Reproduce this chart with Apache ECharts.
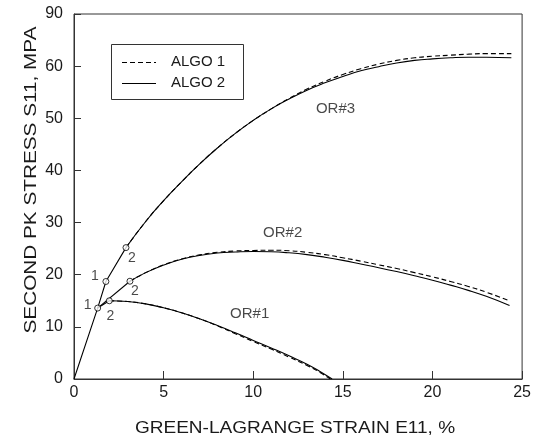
<!DOCTYPE html>
<html>
<head>
<meta charset="utf-8">
<script src="https://cdn.jsdelivr.net/npm/echarts@6/dist/echarts.min.js"></script>
<style>html,body{margin:0;padding:0;background:#fff}#c{width:534px;height:441px}</style>
</head>
<body>
<div id="c"></div>
<script>
// ---- data ----
const xTicks = [0, 5, 10, 15, 20, 25];
const yTickLabels = {0:'0',10:'10',20:'20',30:'30',40:'40',50:'50',60:'60',70:'90'};
const xTitle = 'GREEN-LAGRANGE STRAIN E11, %';
const yTitle = 'SECOND PK STRESS S11, MPA';
const legendNames = ['ALGO 1', 'ALGO 2'];

// elastic (straight) loading paths
const elasticOR1 = [[0,0],[1.32,13.6],[1.97,15.0]];
const elasticOR2 = [[1.32,13.6],[3.12,18.75]];
const elasticOR3 = [[1.32,13.6],[1.78,18.7],[2.9,25.2]];

// ALGO 2 (solid)
const or1Algo2 = [[1.97,15.0],[3,14.85],[4,14.4],[5,13.65],[6,12.7],[7,11.55],[8,10.25],[9,8.85],[10,7.4],[11,5.95],[12,4.45],[13,2.85],[13.7,1.5],[14.4,0]];
const or2Algo2 = [[3.12,18.75],[4,20.4],[5,21.85],[6,22.95],[7,23.7],[8,24.15],[9,24.35],[10,24.45],[11,24.4],[12,24.2],[13,23.85],[14,23.35],[15,22.75],[16,22.05],[17,21.35],[18,20.6],[19,19.8],[20,18.95],[21,18.0],[22,17.0],[23,15.85],[24.3,14.1]];
const or3Algo2 = [[2.9,25.2],[4,30.2],[5,34.2],[6,37.8],[7,41.2],[8,44.3],[9,47.1],[10,49.6],[11,51.8],[12,53.7],[13,55.4],[14,56.8],[15,58.0],[16,59.1],[17,59.9],[18,60.6],[19,61.1],[20,61.4],[21,61.6],[22,61.7],[23,61.7],[24.4,61.6]];

// ALGO 1 (dashed)
const or1Algo1 = [[1.97,15.0],[3,14.85],[4,14.4],[5,13.65],[6,12.7],[7,11.55],[8,10.2],[9,8.7],[10,7.2],[11,5.75],[12,4.2],[13,2.6],[13.7,1.3],[14.3,0]];
const or2Algo1 = [[3.12,18.75],[4,20.4],[5,21.9],[6,23.0],[7,23.8],[8,24.3],[9,24.55],[10,24.65],[11,24.7],[12,24.6],[13,24.3],[14,23.85],[15,23.25],[16,22.6],[17,21.9],[18,21.2],[19,20.4],[20,19.6],[21,18.7],[22,17.75],[23,16.65],[24.3,15.0]];
const or3Algo1 = [[2.9,25.2],[4,30.2],[5,34.2],[6,37.8],[7,41.2],[8,44.3],[9,47.1],[10,49.6],[11,51.8],[12,53.8],[13,55.6],[14,57.1],[15,58.4],[16,59.5],[17,60.4],[18,61.1],[19,61.6],[20,61.9],[21,62.1],[22,62.3],[23,62.4],[24.4,62.4]];

// marked points and their labels
const markPts = [[1.32,13.6],[1.97,15.0],[1.78,18.7],[3.12,18.75],[2.9,25.2]];
const markLabels = ['1','2','1','2','2'];

// curve names and their anchor positions (data coords)
const curveNames = ['OR#1','OR#2','OR#3'];
const curveNamePos = [[9.8,12.5],[11.64,28.0],[14.59,51.8]];

// ---- chart ----
const chart = echarts.init(document.getElementById('c'), null, {renderer:'canvas'});
const FONT = 'Liberation Sans, Arial, sans-serif';
const INK = '#000';
const TXT = '#1a1a1a';
const dashed = {color: INK, width: 1.1, type: [5,3]};
const solid = {color: INK, width: 1.1, type: 'solid'};

function line(name, data, ls, smooth) {
  return {type:'line', name, data, smooth: smooth ? 0.5 : false, showSymbol:false, symbol:'none',
    lineStyle: ls, itemStyle:{color: INK}, silent:true, animation:false, z:3};
}
const labelOffsets = [[-10,-3],[1,15],[-11,-5],[5,10],[6,11]];
const series = [
  line('ALGO 1', or1Algo1, dashed, true),
  line('ALGO 1', or2Algo1, dashed, true),
  line('ALGO 1', or3Algo1, dashed, true),
  line('ALGO 2', or1Algo2, solid, true),
  line('ALGO 2', or2Algo2, solid, true),
  line('ALGO 2', or3Algo2, solid, true),
  line('ALGO 2', elasticOR1, solid, false),
  line('ALGO 2', elasticOR2, solid, false),
  line('ALGO 2', elasticOR3, solid, false),
  {type:'scatter', name:'pts', z:5, animation:false, silent:true,
   symbol:'circle', symbolSize:6,
   itemStyle:{color:'#fff', borderColor:INK, borderWidth:1},
   data: markPts.map((p,i)=>({value:p, label:{show:true, formatter:markLabels[i], position:'inside', offset:labelOffsets[i], color:TXT, fontSize:14, fontFamily:FONT}}))},
  {type:'scatter', name:'names', z:5, animation:false, silent:true, symbolSize:0,
   data: curveNamePos.map((p,i)=>({value:p, label:{show:true, formatter:curveNames[i], position:'inside', color:TXT, fontSize:15, fontFamily:FONT}}))}
];

// legend drawn as graphic (box, line samples, texts)
const LG = {x:111, y:44, w:132, h:55};
const legendGraphic = [
  {type:'rect', shape:{x:LG.x+0.5, y:LG.y+0.5, width:LG.w, height:LG.h}, style:{fill:'#fff', stroke:'#333', lineWidth:1}, z:10},
  {type:'line', shape:{x1:122, y1:62.5, x2:156, y2:62.5}, style:{stroke:INK, lineWidth:1.1, lineDash:[5,3]}, z:11},
  {type:'line', shape:{x1:122, y1:83.5, x2:156, y2:83.5}, style:{stroke:INK, lineWidth:1.1}, z:11},
  {type:'text', x:171, y:62, style:{text:legendNames[0], fill:TXT, font:'15px '+FONT, textVerticalAlign:'middle'}, z:11},
  {type:'text', x:171, y:83, style:{text:legendNames[1], fill:TXT, font:'15px '+FONT, textVerticalAlign:'middle'}, z:11}
];

chart.setOption({
  animation:false,
  backgroundColor:'#fff',
  grid:{left:74, right:11, top:14, bottom:62, show:true, borderColor:'#333', borderWidth:1, containLabel:false},
  xAxis:{type:'value', min:0, max:25, interval:5,
    axisLine:{show:true, onZero:false, lineStyle:{color:'#333', width:1}},
    axisTick:{show:true, inside:true, length:8, lineStyle:{color:'#333'}},
    splitLine:{show:false},
    axisLabel:{color:TXT, fontSize:16, fontFamily:FONT, margin:6, formatter:v=>xTicks.includes(v)?String(v):''}},
  yAxis:{type:'value', min:0, max:70, interval:10,
    axisLine:{show:true, onZero:false, lineStyle:{color:'#333', width:1}},
    axisTick:{show:true, inside:true, length:7, lineStyle:{color:'#333'}},
    splitLine:{show:false},
    axisLabel:{color:TXT, fontSize:16, fontFamily:FONT, margin:11, formatter:v=>yTickLabels[v]}},
  graphic:[
    {type:'text', style:{text:xTitle, fill:TXT, font:'17px '+FONT, textAlign:'center', textVerticalAlign:'middle'},
     x:295, y:428, scaleX:1.12, scaleY:1},
    {type:'text', style:{text:yTitle, fill:TXT, font:'17px '+FONT, textAlign:'center', textVerticalAlign:'middle'},
     x:31, y:180, rotation:Math.PI/2, scaleX:1.22, scaleY:1}
  ].concat(legendGraphic),
  series
});
</script>
</body>
</html>
